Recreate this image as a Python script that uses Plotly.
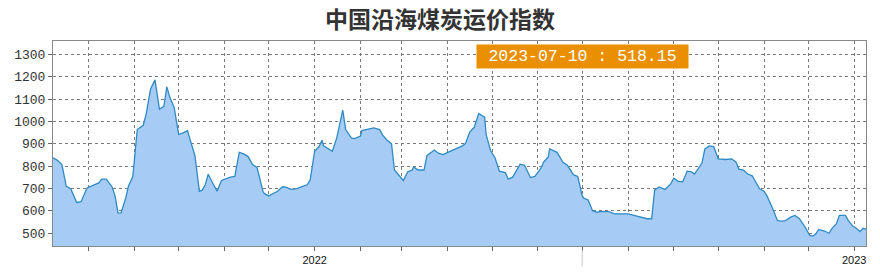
import plotly.graph_objects as go

title_text = "中国沿海煤炭运价指数"
latest_label = "2023-07-10 : 518.15"

dates = [
    "2021-07-08", "2021-07-11", "2021-07-14", "2021-07-17", "2021-07-20", "2021-07-22", "2021-07-24", "2021-07-27",
    "2021-07-31", "2021-08-04", "2021-08-08", "2021-08-10", "2021-08-13", "2021-08-17", "2021-08-19", "2021-08-21",
    "2021-08-23", "2021-08-26", "2021-08-28", "2021-08-31", "2021-09-03", "2021-09-07", "2021-09-09", "2021-09-12",
    "2021-09-15", "2021-09-18", "2021-09-21", "2021-09-23", "2021-09-25", "2021-09-28", "2021-10-01", "2021-10-04",
    "2021-10-07", "2021-10-09", "2021-10-12", "2021-10-15", "2021-10-17", "2021-10-19", "2021-10-21", "2021-10-24",
    "2021-10-27", "2021-10-30", "2021-11-01", "2021-11-05", "2021-11-08", "2021-11-11", "2021-11-14", "2021-11-17",
    "2021-11-20", "2021-11-23", "2021-11-25", "2021-11-27", "2021-11-28", "2021-12-01", "2021-12-04", "2021-12-07",
    "2021-12-10", "2021-12-12", "2021-12-16", "2021-12-20", "2021-12-23", "2021-12-27", "2021-12-29", "2022-01-01",
    "2022-01-04", "2022-01-06", "2022-01-07", "2022-01-10", "2022-01-13", "2022-01-16", "2022-01-17", "2022-01-20",
    "2022-01-22", "2022-01-24", "2022-01-26", "2022-01-28", "2022-02-01", "2022-02-02", "2022-02-06", "2022-02-10",
    "2022-02-14", "2022-02-16", "2022-02-19", "2022-02-22", "2022-02-24", "2022-02-27", "2022-03-02", "2022-03-05",
    "2022-03-08", "2022-03-09", "2022-03-12", "2022-03-16", "2022-03-18", "2022-03-21", "2022-03-23", "2022-03-26",
    "2022-03-29", "2022-04-01", "2022-04-06", "2022-04-11", "2022-04-13", "2022-04-16", "2022-04-19", "2022-04-22",
    "2022-04-26", "2022-04-27", "2022-04-30", "2022-05-03", "2022-05-06", "2022-05-10", "2022-05-12", "2022-05-15",
    "2022-05-20", "2022-05-23", "2022-05-27", "2022-05-30", "2022-06-03", "2022-06-05", "2022-06-08", "2022-06-09",
    "2022-06-14", "2022-06-18", "2022-06-21", "2022-06-25", "2022-06-28", "2022-07-01", "2022-07-02", "2022-07-05",
    "2022-07-08", "2022-07-11", "2022-07-13", "2022-07-19", "2022-07-23", "2022-07-27", "2022-08-01", "2022-08-05",
    "2022-08-10", "2022-08-14", "2022-08-17", "2022-08-19", "2022-08-22", "2022-08-26", "2022-08-30", "2022-09-01",
    "2022-09-04", "2022-09-07", "2022-09-10", "2022-09-13", "2022-09-15", "2022-09-18", "2022-09-20", "2022-09-22",
    "2022-09-25", "2022-09-28", "2022-10-01", "2022-10-06", "2022-10-10", "2022-10-13", "2022-10-15", "2022-10-18",
    "2022-10-21", "2022-10-24", "2022-10-27", "2022-10-29", "2022-11-01", "2022-11-03", "2022-11-07", "2022-11-10",
    "2022-11-12", "2022-11-15", "2022-11-19", "2022-11-22", "2022-11-25", "2022-11-27", "2022-11-29", "2022-12-02",
    "2022-12-04", "2022-12-06", "2022-12-08", "2022-12-12", "2022-12-15", "2022-12-17", "2022-12-20", "2022-12-22",
    "2022-12-26", "2022-12-28", "2022-12-31", "2023-01-02", "2023-01-05", "2023-01-07", "2023-01-09",
]

index_values = [
    838, 826, 807, 710, 699, 667, 638, 641,
    703, 714, 725, 742, 742, 707, 667, 590,
    591, 652, 710, 754, 964, 983, 1032, 1145,
    1186, 1055, 1068, 1155, 1109, 1062, 942, 949,
    959, 913, 848, 688, 693, 717, 764, 725,
    688, 736, 742, 751, 754, 862, 855, 843,
    807, 794, 742, 688, 677, 667, 678, 688,
    707, 707, 696, 700, 707, 717, 739, 867,
    888, 916, 891, 877, 867, 928, 959, 1051,
    964, 945, 925, 923, 935, 959, 964, 971,
    964, 939, 916, 901, 783, 757, 736, 775,
    783, 797, 783, 783, 848, 862, 872, 857,
    852, 862, 877, 891, 901, 954, 974, 1036,
    1019, 942, 870, 838, 778, 771, 742, 751,
    809, 804, 749, 754, 790, 819, 841, 877,
    862, 817, 804, 762, 754, 667, 657, 649,
    601, 594, 597, 597, 587, 587, 587, 580,
    572, 565, 565, 693, 707, 696, 722, 746,
    732, 730, 778, 775, 765, 797, 814, 877,
    891, 888, 833, 830, 833, 819, 787, 783,
    765, 757, 725, 699, 688, 667, 609, 558,
    554, 555, 572, 580, 565, 546, 525, 490,
    487, 496, 517, 510, 500, 522, 543, 580,
    580, 558, 532, 525, 507, 522, 518.15,
]

month_ticks = [
    "2021-08-01", "2021-09-01", "2021-10-01", "2021-11-01", "2021-12-01", "2022-01-01",
    "2022-02-01", "2022-03-01", "2022-04-01", "2022-05-01", "2022-06-01", "2022-07-01",
    "2022-08-01", "2022-09-01", "2022-10-01", "2022-11-01", "2022-12-01", "2023-01-01",
]
month_labels = ["", "", "", "", "", "2022", "", "", "", "", "", "", "", "", "", "", "", "2023"]
y_ticks = [500, 600, 700, 800, 900, 1000, 1100, 1200, 1300]

fig = go.Figure()
fig.add_trace(go.Scatter(
    x=dates, y=index_values, mode="lines", fill="tozeroy",
    fillcolor="#A6CCF5", line=dict(color="#2F8AC4", width=1.3),
    hoverinfo="x+y", showlegend=False,
))

grid = dict(showgrid=True, gridcolor="#7a7a7a", gridwidth=1, griddash="3px,3px")

fig.update_layout(
    width=880, height=278,
    margin=dict(l=53, r=14, t=41, b=27, pad=0),
    paper_bgcolor="white", plot_bgcolor="white",
    title=dict(text="<b>" + title_text + "</b>", x=0.5, xanchor="center", y=1 - 19.5 / 278, yanchor="middle",
               yref="container",
               font=dict(family="Noto Sans CJK SC", size=23, color="#333333")),
    xaxis=dict(
        type="date", range=[dates[0], dates[-1]],
        tickmode="array", tickvals=month_ticks, ticktext=month_labels,
        ticks="outside", ticklen=4, tickcolor="#666", tickwidth=1,
        tickfont=dict(family="Liberation Sans Narrow, Liberation Sans", size=11, color="#111"),
        showline=True, linecolor="#888", linewidth=1, mirror=True, zeroline=False,
        **grid,
    ),
    yaxis=dict(
        range=[443, 1360], tickmode="array", tickvals=y_ticks,
        ticks="outside", ticklen=4, tickcolor="#666",
        tickfont=dict(family="Liberation Mono", size=13, color="#333"),
        showline=True, linecolor="#888", linewidth=1, mirror=True, zeroline=False,
        **grid,
    ),
    annotations=[dict(
        text=latest_label, xref="paper", yref="paper",
        x=(582.5 - 53) / 813, y=(251 - 56.5) / 210, xanchor="center", yanchor="middle",
        showarrow=False, bgcolor="#EA9000", width=211, height=23, borderpad=0,
        font=dict(family="Liberation Mono", size=16.5, color="white"),
    )],
    shapes=[dict(type="line", xref="x", yref="paper", x0="2022-07-01", x1="2022-07-01",
                 y0=-0.02, y1=-0.1, line=dict(color="#c8c8c8", width=1))],
)

fig.write_html("out.html")
